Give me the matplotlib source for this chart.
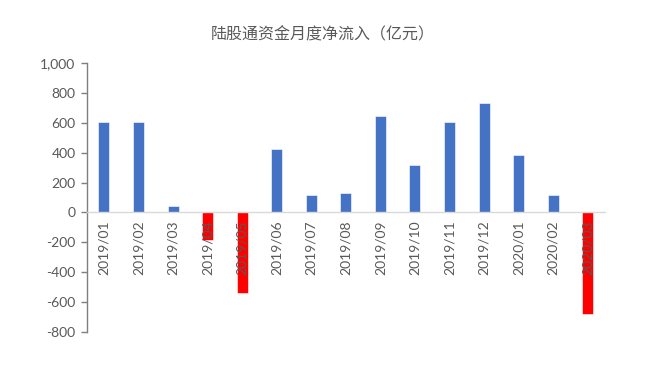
import matplotlib
matplotlib.use("Agg")
import matplotlib.pyplot as plt
import numpy as np
from matplotlib.ticker import FuncFormatter

months = ['2019/01', '2019/02', '2019/03', '2019/04', '2019/05', '2019/06', '2019/07', '2019/08',
          '2019/09', '2019/10', '2019/11', '2019/12', '2020/01', '2020/02', '2020/03']
inflow = [606, 606, 40, -182, -542, 423, 119, 130, 646, 319, 606, 733, 382, 117, -683]

title = '陆股通资金月度净流入（亿元）'
grey = '#595959'

plt.rcParams['font.family'] = ['Lato', 'Noto Sans CJK SC', 'DejaVu Sans']

fig = plt.figure(figsize=(6.45, 3.67), dpi=100)
ax = fig.add_axes([0.1344, 0.0962, 0.8036, 0.7313])

x = np.arange(len(months))
colors = ['#4472C4' if v >= 0 else '#FF0000' for v in inflow]
ax.bar(x, inflow, width=0.32, color=colors, edgecolor='white', linewidth=0.4, zorder=1)

ax.set_xlim(-0.5, len(months) - 0.5)
ax.set_ylim(-800, 1000)
ax.set_yticks(np.arange(-800, 1001, 200))
ax.yaxis.set_major_formatter(FuncFormatter(lambda v, p: f'{int(v):,}'))

ax.spines['top'].set_visible(False)
ax.spines['right'].set_visible(False)
ax.spines['left'].set_color('#7f7f7f')
ax.spines['left'].set_linewidth(1.0)
ax.spines['bottom'].set_position(('data', 0))
ax.spines['bottom'].set_color('#d9d9d9')
ax.spines['bottom'].set_linewidth(1.0)

ax.set_xticks(x)
ax.set_xticklabels(months, rotation=90, fontsize=10, color=grey)
ax.tick_params(axis='x', length=0, pad=6)
ax.tick_params(axis='y', length=4, width=1, color='#7f7f7f', labelsize=10, labelcolor=grey, pad=4)

fig.text(0.5, 0.905, title, ha='center', va='center', fontsize=11.5, color=grey,
         family=['Noto Sans CJK SC', 'DejaVu Sans'])

fig.savefig('out.png', dpi=100)
